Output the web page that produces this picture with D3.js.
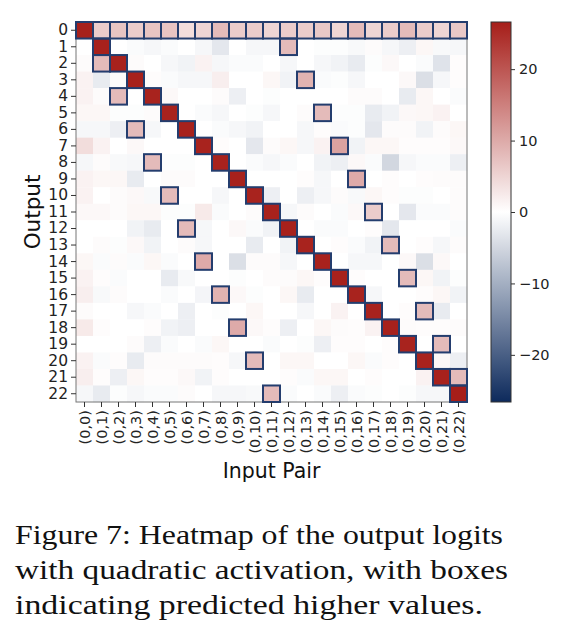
<!DOCTYPE html>
<html><head><meta charset="utf-8">
<script src="https://cdn.jsdelivr.net/npm/d3@7"></script>
<style>
html,body{margin:0;padding:0;background:#fff;}
svg{display:block;}
</style></head>
<body>
<svg id="chart" width="566" height="644"></svg>
<script>
// ---- data ----
const outputs = d3.range(23).map(String);
const inputPairs = d3.range(23).map(i => "(0," + i + ")");
const logits = [
 [26.3, 6, 7, 6, 7, 7, 4, 5, 8, 6, 6, 5, 6, 6, 6.5, 5, 8, 5, 6, 8, 6, 5, 6.5],
 [0, 26.2, 0, -0.5, -1, -0.5, 0, -1, -3, 0, -1, -1, 8, 0, -0.3, -0.3, -0.8, 0.5, -1, -2, 1, -0.8, -1],
 [0.5, 8, 26.1, 0.5, 0, -1, -1.5, 1.5, -1, -0.5, -0.5, 0, -1, 0, -1, -1.5, -2.5, -0.3, 0.8, 0, -0.5, -3.5, 0.3],
 [1.5, -2.5, 0.5, 26.2, 0.3, -0.5, -1, -1, 2, 0, 0, 1, -1.5, 9, -0.5, -0.3, -1, 0, 0, 0.8, -4, -1, 0.3],
 [1.5, 0.5, 8, 0, 26.0, 0.8, 0, 0, 0.5, -2, 0, -0.3, 0, 0, 0, 0, 0.5, 0.5, 0, -2.5, 1, 0, -0.5],
 [1, 1, -0.3, -0.3, 0.5, 26.1, 0, -0.5, -1, 0, -0.3, -1, 0, 0.5, 8, -0.3, -0.3, -2.5, -1.5, 0.8, 1, 1.5, 0],
 [-1, -1, -2, 8, -1, 0, 26.2, 0, -0.5, -1, -1.5, 0, 0, -1, 0.3, -0.5, -0.3, -3, 0.5, 0.5, -1.5, 0.5, 1],
 [4, 1.5, 0, 0.8, 0, 0, 0, 26.0, 0.3, 0, -3, 0.5, 1, -1, 1.5, 11, -1.5, 1, 1, 0.3, 0.3, 0.3, 0.8],
 [-1, 0.5, -0.8, -1, 8, -0.3, -0.3, 0, 26.1, 0, -0.5, -1, -0.5, 0, -1.5, -2, 0.8, -0.5, -5, -1, -0.5, -0.5, -2],
 [1.5, 1, 1, -2.5, 0, 0.5, 0.5, 0, 0, 26.2, 0, 0, 0, 0.3, -1, 0, 10, 0, 0.3, 0, 0.3, 0.5, 0.5],
 [1.5, 0, 0.5, 0.8, -0.8, 8, 0, 0, -1, 0, 26.0, -2, 0, -2, -1, 0.5, -0.8, 1, 0.3, -0.3, -0.3, 0, 0.5],
 [0.8, 0.8, 0.5, 1, 1, -0.3, -0.3, 2.5, -0.5, 0, 0.5, 26.1, -1, 0.5, 0, -0.5, 0.8, 6, 0, -3, -0.5, -0.5, 0.5],
 [0, 0, 0, -1.5, -2.5, 0, 8, -1, 0, 0.8, -0.5, -1.5, 26.2, 0, -0.5, -0.5, 0, 0.3, -3, 0, 0, 0, -0.5],
 [0, 0.5, -0.3, 0.8, -1.5, 0, 0.5, -1, 0, 0, -2.5, 0, -1.5, 26.0, 0, 0.3, -0.5, -1.5, 8, 0, 0.3, -1, 0.5],
 [1, -0.5, 0.5, -0.5, 1, -0.5, 0, 10, 0, -4, 0.5, 0.5, -1, 0, 26.1, 0, -1, -1, 0, 0.8, -4, 0.8, 0],
 [1.5, 0.3, -0.5, 0, 0, -2.5, -0.8, 0, 0, -0.3, 0, 0.5, 0.5, 1, 0.3, 26.2, 0.3, 0, 0, 8, 1, -1.5, -0.3],
 [2, -0.8, 0.5, 0, 0, -0.5, 0, -1.2, 9, 0.8, -0.3, 0, 1, -2.5, 0, 0, 26.0, -1, 0, 0, 0.3, 1, -1.5],
 [0.5, 0, 0, -1, -0.5, 0, -2, 0, -0.3, 0, 1, 0, 0, -1, 0, 1.5, 0, 26.1, 0, 0.3, 8, -2.5, 0],
 [2.5, 0.3, 0, 0, 0.3, -1.5, -2, 0, 0, 10, 0.8, 0.3, -2, 0, 1, 0.5, 0.3, 1.5, 26.2, 0.5, 0.3, 0.3, 0.5],
 [0, 0, 0, 0.5, -2, -0.5, 0, -0.5, 1, 0, 0, -0.5, 0, -0.3, -2, 0.3, 0.3, 0, 0.3, 26.0, 0, 8, 0],
 [1.5, -0.5, 0.3, -2.5, 0.5, 0.5, 0.5, 0.5, 0.3, -1, 8, 0, 1, 1, 0, 0, 1, -0.5, 0.3, 0, 26.1, 1, -2],
 [2, 0.3, -2, 1, 0.3, 0.3, 0.8, -1.5, 0.3, 0, 0, 0, 0.3, -0.5, 1, 1, 0, 0.3, 0, 0, 1.5, 26.2, 8],
 [-1, -2.5, -0.3, -1, -0.5, -0.5, 0.5, 0, -1, -1, -0.8, 8, -0.5, 0, -0.5, -2, -0.5, -0.3, 0, -0.3, -1, -1, 26.6]
];
// boxed cells (row, col)
const boxedRows = [0,0,0,0,0,0,0,0,0,0,0,0,0,0,0,0,0,0,0,0,0,0,0,
  1,2,3,4,5,6,7,8,9,10,11,12,13,14,15,16,17,18,19,20,21,22,
  1,2,3,4,5,6,7,8,9,10,11,12,13,14,15,16,17,18,19,20,21,22];
const boxedCols = [0,1,2,3,4,5,6,7,8,9,10,11,12,13,14,15,16,17,18,19,20,21,22,
  1,2,3,4,5,6,7,8,9,10,11,12,13,14,15,16,17,18,19,20,21,22,
  12,1,13,2,14,3,15,4,16,5,17,6,18,7,19,8,20,9,21,10,22,11];
const colorbarTicks = [20, 10, 0, -10, -20];
const captionLines = [
  "Figure 7: Heatmap of the output logits",
  "with quadratic activation, with boxes",
  "indicating predicted higher values."
];

// ---- drawing ----
const svg = d3.select("#chart");
const L = 76, R = 467, T = 22, B = 402;
const x = d3.scaleBand().domain(d3.range(23)).range([L, R]).padding(0);
const y = d3.scaleBand().domain(d3.range(23)).range([T, B]).padding(0);
const vmax = 26.6;
const color = d3.scaleLinear().domain([-vmax, 0, vmax])
  .range(["#0d2a5c", "#ffffff", "#a61e19"]).interpolate(d3.interpolateRgb).clamp(true);

const cells = [];
logits.forEach((row, r) => row.forEach((v, c) => cells.push({r, c, v})));
svg.append("g").selectAll("rect").data(cells).join("rect")
  .attr("x", d => x(d.c)).attr("y", d => y(d.r))
  .attr("width", x.bandwidth() + 0.3).attr("height", y.bandwidth() + 0.3)
  .attr("fill", d => color(d.v));

// frame
svg.append("rect").attr("x", L).attr("y", T).attr("width", R - L).attr("height", B - T)
  .attr("fill", "none").attr("stroke", "#777").attr("stroke-width", 1);

// boxes
const boxes = boxedRows.map((r, i) => ({r, c: boxedCols[i]}));
svg.append("g").selectAll("rect").data(boxes).join("rect")
  .attr("x", d => x(d.c)).attr("y", d => y(d.r))
  .attr("width", x.bandwidth()).attr("height", y.bandwidth())
  .attr("fill", "none").attr("stroke", "#243d6e").attr("stroke-width", 2);

// axes
const font = "DejaVu Sans, sans-serif";
const yAxis = svg.append("g").attr("transform", `translate(${L},0)`)
  .call(d3.axisLeft(y).tickFormat(i => outputs[i]).tickSize(5).tickPadding(3));
yAxis.select(".domain").remove();
yAxis.selectAll("text").attr("font-family", font).attr("font-size", 15.5).attr("fill", "#222");
yAxis.selectAll("line").attr("stroke", "#333");

const xAxis = svg.append("g").attr("transform", `translate(0,${B})`)
  .call(d3.axisBottom(x).tickFormat(i => inputPairs[i]).tickSize(5).tickPadding(3));
xAxis.select(".domain").remove();
xAxis.selectAll("line").attr("stroke", "#333");
xAxis.selectAll("text").attr("font-family", font).attr("font-size", 14.5).attr("fill", "#222")
  .attr("transform", "rotate(-90)").attr("text-anchor", "end")
  .attr("x", -8).attr("y", 0).attr("dy", "0.35em");

svg.append("text").attr("x", (L + R) / 2).attr("y", 478).attr("text-anchor", "middle")
  .attr("font-family", font).attr("font-size", 20.5).attr("fill", "#111").text("Input Pair");
svg.append("text").attr("transform", `translate(40,${(T + B) / 2}) rotate(-90)`)
  .attr("text-anchor", "middle").attr("font-family", font).attr("font-size", 21.5)
  .attr("fill", "#111").text("Output");

// colorbar
const cbX = 491, cbW = 20;
const cScale = d3.scaleLinear().domain([-vmax, vmax]).range([B, T]);
const defs = svg.append("defs");
const grad = defs.append("linearGradient").attr("id", "cbgrad")
  .attr("x1", 0).attr("y1", 1).attr("x2", 0).attr("y2", 0);
d3.range(0, 1.0001, 0.05).forEach(t => {
  grad.append("stop").attr("offset", t).attr("stop-color", color(-vmax + 2 * vmax * t));
});
svg.append("rect").attr("x", cbX).attr("y", T).attr("width", cbW).attr("height", B - T)
  .attr("fill", "url(#cbgrad)").attr("stroke", "#333").attr("stroke-width", 1);
const cAxis = svg.append("g").attr("transform", `translate(${cbX + cbW},0)`)
  .call(d3.axisRight(cScale).tickValues(colorbarTicks).tickSize(4).tickPadding(4)
    .tickFormat(d => d < 0 ? "\u2212" + Math.abs(d) : String(d)));
cAxis.select(".domain").remove();
cAxis.selectAll("line").attr("stroke", "#333");
cAxis.selectAll("text").attr("font-family", font).attr("font-size", 14.5).attr("fill", "#222");

// caption
const capY = [544, 579, 614];
const capW = [488, 493, 468];
captionLines.forEach((t, i) => {
  svg.append("text").attr("x", 15).attr("y", capY[i])
    .attr("font-family", "Liberation Serif, serif").attr("font-size", 28).attr("fill", "#111")
    .attr("textLength", capW[i]).attr("lengthAdjust", "spacingAndGlyphs").text(t);
});
</script>
</body></html>
